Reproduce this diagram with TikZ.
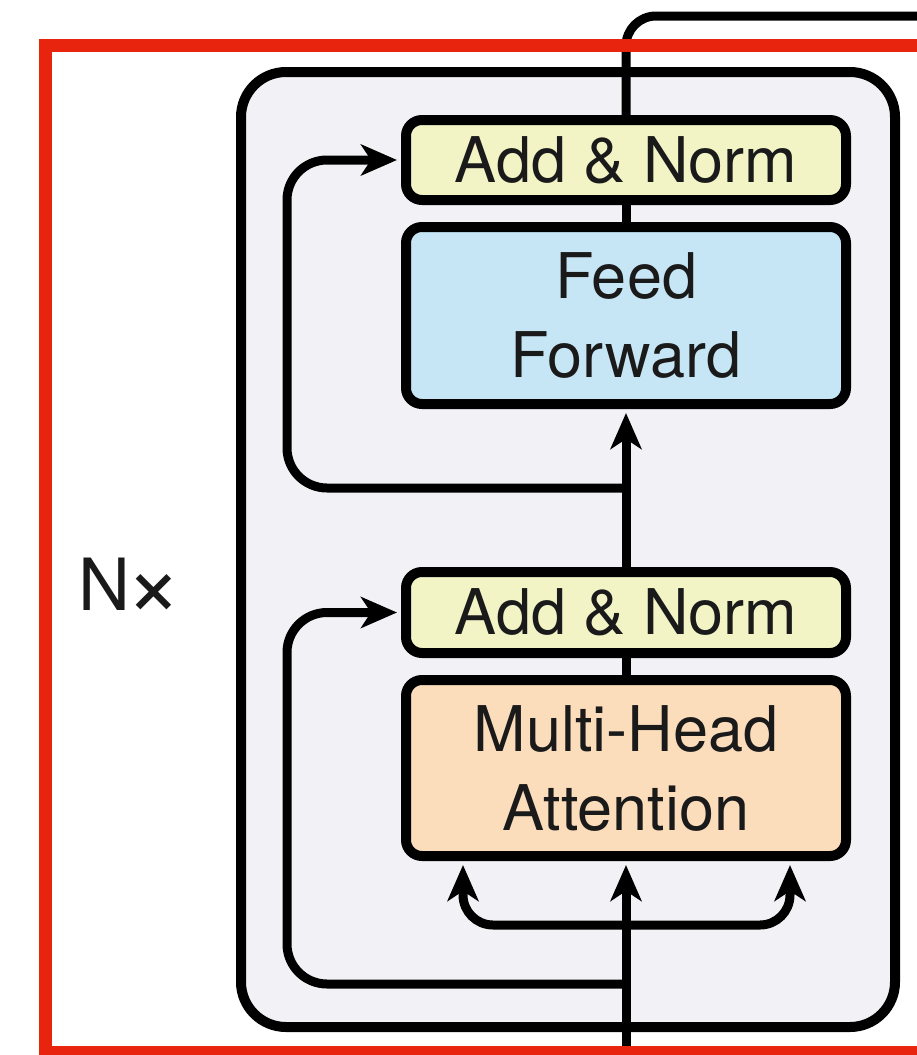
\documentclass[tikz,border=0pt]{standalone}
\usepackage{fontspec}
\setmainfont{TeX Gyre Heros}
\usetikzlibrary{arrows.meta}
\definecolor{blockgrey}{HTML}{F2F2F6}
\definecolor{normyellow}{HTML}{F2F4C6}
\definecolor{ffblue}{HTML}{C6E6F5}
\definecolor{mhaorange}{HTML}{FBDCBB}
\definecolor{framered}{HTML}{E8230E}
\definecolor{inkdark}{HTML}{1A1A1A}
\begin{document}
\begin{tikzpicture}[x=1pt,y=-1pt,
  box/.style={draw=black, line width=10pt, rounded corners=16pt,
    minimum width=440pt, align=center, inner sep=0pt, text=inkdark,
    font=\fontsize{63}{79}\selectfont},
  link/.style={draw=black, line width=9pt},
  arr/.style={link, shorten >=4pt, -{Stealth[length=36pt,width=31pt,inset=10pt]}},
]
% page and its extent
\fill[white] (0,0) rectangle (916,1055);
\useasboundingbox (0,0) rectangle (916,1055);

% the repeated encoder block
\draw[fill=blockgrey, line width=10pt, rounded corners=45pt] (241,72) rectangle (895,1027);

% sub-layers
\node[box, fill=normyellow, minimum height=80pt]  (an2) at (626,160)   {Add \& Norm};
\node[box, fill=ffblue,     minimum height=177pt] (ff)  at (626,315.5) {Feed\\Forward};
\node[box, fill=normyellow, minimum height=81pt]  (an1) at (626,612.5) {Add \& Norm};
\node[box, fill=mhaorange,  minimum height=176pt] (mha) at (626,768)   {Multi-Head\\Attention};

% repeat count
\node[font=\fontsize{72}{72}\selectfont, text=inkdark, anchor=base west, inner sep=0pt]
  (nx) at (78,610) {N\hspace{-5pt}\raisebox{-6pt}{\scalebox{1.35}{×}}};

% helper coordinates
\coordinate (in)  at (626,1070);
\coordinate (br)  at (626,925);
\coordinate (s1)  at (626,984);
\coordinate (s2)  at (626,488);
\coordinate (lx)  at (287,0);
\coordinate (out) at (940,16);

% input and the three attention inputs
\draw[arr] (in) -- (mha.south);
\draw[arr, rounded corners=30pt] (br) -| ([xshift=-163pt]mha.south);
\draw[arr, rounded corners=30pt] (br) -| ([xshift=164pt]mha.south);

% residual connections
\draw[arr, rounded corners=40pt] (s1) -| (an1.west -| lx) -- (an1.west);
\draw[arr, rounded corners=40pt] (s2) -| (an2.west -| lx) -- (an2.west);

% main path through the block
\draw[link] (mha.north) -- (an1.south);
\draw[arr]  (an1.north) -- (ff.south);
\draw[link] (ff.north) -- (an2.south);
\draw[link, rounded corners=30pt] (an2.north) |- (out);

% highlight frame
\draw[framered, line width=13pt] (940,45.5) -- (45.5,45.5) -- (45.5,1052.5) -- (940,1052.5);
\end{tikzpicture}
\end{document}
